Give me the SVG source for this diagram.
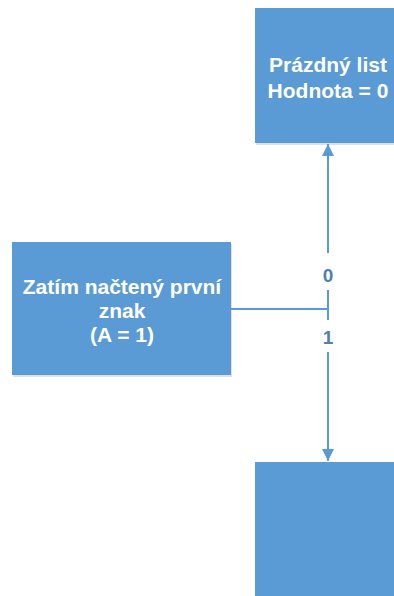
<svg xmlns="http://www.w3.org/2000/svg" width="394" height="596" viewBox="0 0 394 596">
  <defs>
    <style>
      .box { fill: #5b9bd5; }
      .shadow { fill: #000; opacity: 0.12; }
      .txt { font-family: "Liberation Sans", Arial, sans-serif; font-weight: bold; font-size: 21px; fill: #ffffff; text-anchor: middle; }
      .lbl { font-family: "Liberation Sans", Arial, sans-serif; font-weight: bold; font-size: 19px; fill: #4f7fb3; text-anchor: middle; }
      .wire { stroke: #5b9bd5; stroke-width: 2; fill: none; }
    </style>
    <marker id="arrow" viewBox="0 0 10 10" refX="10" refY="5" markerWidth="6" markerHeight="7" markerUnits="strokeWidth" orient="auto">
      <path d="M0,0 L10,5 L0,10 z" fill="#5b9bd5"/>
    </marker>
  </defs>
  <rect width="394" height="596" fill="#ffffff"/>

  <g id="empty-leaf">
    <rect class="shadow" x="256" y="10" width="146" height="135"/>
    <rect class="box" x="255" y="8" width="146" height="135"/>
    <text class="txt" x="328" y="72">Prázdný list</text>
    <text class="txt" x="328" y="98">Hodnota = 0</text>
  </g>

  <g id="first-char">
    <rect class="shadow" x="13" y="244" width="219" height="133"/>
    <rect class="box" x="12" y="242" width="219" height="133"/>
    <text class="txt" x="122" y="294">Zatím načtený první</text>
    <text class="txt" x="122" y="318">znak</text>
    <text class="txt" x="122" y="342">(A = 1)</text>
  </g>

  <g id="next-node">
    <rect class="shadow" x="256" y="464" width="146" height="134"/>
    <rect class="box" x="255" y="462" width="146" height="134"/>
  </g>

  <g id="connectors">
    <line class="wire" x1="231" y1="309" x2="328" y2="309"/>
    <line class="wire" x1="328" y1="320" x2="328" y2="290"/>
    <line class="wire" x1="328" y1="253" x2="328" y2="144" marker-end="url(#arrow)"/>
    <line class="wire" x1="328" y1="352" x2="328" y2="461" marker-end="url(#arrow)"/>
    <text class="lbl" x="328" y="282">0</text>
    <text class="lbl" x="328" y="344">1</text>
  </g>
</svg>
